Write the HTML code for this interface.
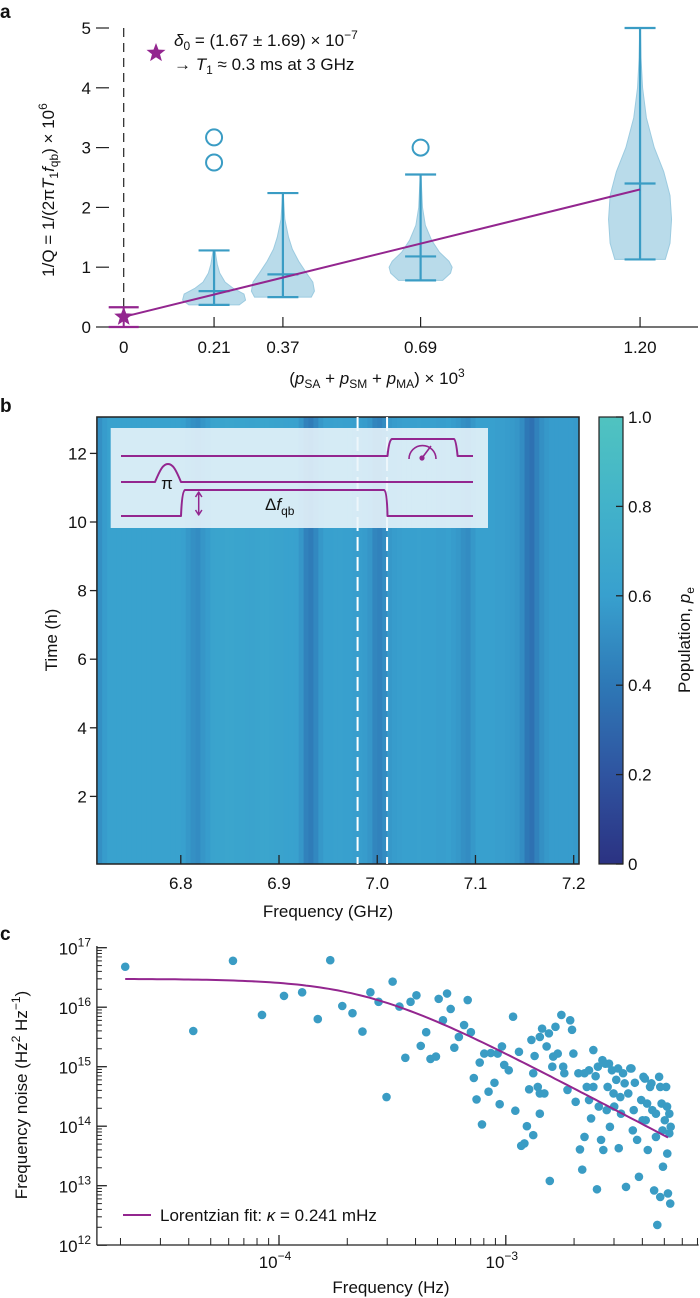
<!DOCTYPE html>
<html><head><meta charset="utf-8">
<style>
html,body{margin:0;padding:0;background:#fff;}
svg{display:block;font-family:"Liberation Sans",sans-serif;}
text{fill:#111;}
</style></head>
<body>
<svg id="fig" width="700" height="1298" viewBox="0 0 700 1298" xmlns="http://www.w3.org/2000/svg">
<g id="pa"></g>
<g id="pb"></g>
<g id="pc"></g>
</svg>
<script>
// ---------- Panel a data ----------
const aCategories = [0.21, 0.37, 0.69, 1.20];
const aMins = [0.37, 0.50, 0.78, 1.13];
const aMedians = [0.60, 0.88, 1.18, 2.40];
const aMaxs = [1.28, 2.24, 2.55, 5.00];
const aOutliers = [[3.17, 2.75], [], [3.00], []];
const aDensY = [
  [0.37,0.45,0.55,0.65,0.75,0.9,1.05,1.28],
  [0.5,0.6,0.75,0.9,1.1,1.3,1.5,1.8,2.24],
  [0.78,0.9,1.0,1.1,1.25,1.45,1.7,2.0,2.55],
  [1.13,1.4,1.8,2.2,2.6,3.0,3.5,4.0,4.5,5.0]
];
const aDensW = [
  [0.8,1.0,0.95,0.6,0.35,0.18,0.1,0.03],
  [0.9,1.0,0.95,0.75,0.5,0.3,0.18,0.06,0.01],
  [0.7,0.95,1.0,0.9,0.6,0.35,0.15,0.06,0.01],
  [0.8,0.95,1.0,0.95,0.75,0.45,0.2,0.08,0.03,0.01]
];
const aStar = [0, 0.17, 0.0, 0.33];
const aFit = [0.17, 2.30];
const aXTicks = [0, 0.21, 0.37, 0.69, 1.20];
const aXTickLabels = ["0","0.21","0.37","0.69","1.20"];
const aYTicks = [0,1,2,3,4,5];

// ---------- Panel b data ----------
const bProfile = [0.52,0.58,
 0.62,0.62,0.62,0.62,0.62,0.62,0.62,0.62,0.62,0.62,0.62,0.62,0.62,0.62,0.62,
 0.6,0.56,0.52,0.5,0.55,0.58,
 0.63,0.64,0.64,0.65,0.65,0.64,0.64,0.63,0.63,0.64,0.65,0.65,0.64,0.63,0.63,0.62,0.62,0.61,
 0.55,0.45,0.42,0.48,0.56,
 0.6,0.6,0.61,0.61,0.6,0.6,0.59,0.59,0.58,
 0.55,0.47,0.45,0.5,0.56,
 0.58,0.59,0.6,0.6,0.6,0.61,0.6,0.6,0.6,0.59,0.59,0.6,0.58,0.56,
 0.52,0.5,0.56,
 0.6,0.6,0.6,0.6,0.59,0.59,0.58,0.57,0.55,
 0.5,0.4,0.36,0.45,0.52,
 0.56,0.58,0.58,0.58,0.58,0.58,0.57,0.55];
const bFreqStart = 6.715, bFreqStep = 0.005;
const bXTicks = [6.8,6.9,7.0,7.1,7.2];
const bXTickLabels = ["6.8","6.9","7.0","7.1","7.2"];
const bYTicks = [2,4,6,8,10,12];
const bCbTicks = [0,0.2,0.4,0.6,0.8,1.0];
const bCbLabels = ["0","0.2","0.4","0.6","0.8","1.0"];
const bDashed = [6.980, 7.010];

// ---------- Panel c data (log10 f, log10 S) ----------
const cLogF = [-4.678,-4.378,-4.203,-4.075,-3.978,-3.898,-3.829,-3.774,-3.721,-3.676,-3.632,-3.597,-3.561,-3.526,-3.499,-3.469,-3.443,-3.420,-3.394,-3.375,-3.351,-3.332,-3.308,-3.296,-3.277,-3.259,-3.243,-3.227,-3.207,-3.184,-3.168,-3.154,-3.141,-3.129,-3.115,-3.105,-3.095,-3.076,-3.066,-3.050,-3.036,-3.027,-3.017,-3.007,-2.987,-2.968,-2.958,-2.942,-2.932,-2.918,-2.907,-2.897,-2.887,-2.879,-2.873,-2.859,-2.850,-2.840,-2.830,-2.820,-2.806,-2.795,-2.781,-2.771,-2.755,-2.742,-2.728,-2.716,-2.708,-2.702,-2.692,-2.680,-2.673,-2.663,-2.653,-2.643,-2.633,-2.624,-2.614,-2.604,-2.598,-2.590,-2.580,-2.570,-2.561,-2.551,-2.541,-2.532,-2.522,-2.513,-2.502,-2.492,-2.483,-2.470,-2.460,-2.451,-2.440,-2.431,-2.421,-2.413,-2.403,-2.393,-2.383,-2.374,-2.364,-2.354,-2.346,-2.338,-2.332,-2.324,-2.319,-2.313,-2.307,-2.299,-2.293,-2.288,-2.285,-2.279,-2.275,-2.273,
 -2.653,-2.594,-2.574,-2.545,-2.505,-2.476,-2.446,-2.387,-2.358,-2.319,-2.289,-2.633,-2.555,-2.495,-2.436,-2.377,-2.338,-2.279,-2.614,-2.525,-2.397,-2.309,-2.747,-2.791,-2.879,-2.850,-2.810,-2.850];
const cLogS = [16.68,15.60,16.78,15.87,16.19,16.25,15.80,16.79,16.02,15.90,15.59,16.25,16.09,14.49,16.43,16.01,15.15,16.09,16.20,15.35,15.58,15.13,15.17,16.14,15.78,16.23,15.97,15.32,15.50,15.70,16.12,15.58,14.81,14.45,15.07,14.03,15.22,14.58,15.23,14.73,15.22,14.37,15.34,15.03,14.94,15.84,14.26,15.25,13.67,13.71,14.00,14.62,15.45,13.85,15.18,14.66,14.21,15.64,14.55,15.34,13.08,15.00,15.67,15.22,15.87,14.89,14.61,15.78,15.62,15.22,14.41,14.89,13.61,13.27,13.82,14.66,14.94,14.13,15.28,14.84,12.94,14.33,13.77,13.60,15.05,14.66,13.99,14.94,14.33,14.78,13.63,14.21,14.89,12.98,14.55,14.97,13.93,14.73,13.77,13.15,14.44,14.83,14.10,13.60,14.66,14.27,12.92,13.82,12.34,14.83,12.81,14.38,13.32,14.10,14.66,13.54,12.87,14.21,12.70,13.99,
 14.89,15.00,15.11,15.05,14.97,14.72,14.97,14.80,14.72,14.66,14.33,14.44,14.27,14.49,14.27,14.38,14.21,13.88,14.66,14.55,14.10,13.93,15.00,15.17,14.89,14.55,15.56,15.50];
const cFitA = 3e16, cFitKappa = 2.41e-4;
const cFitRange = [-4.678, -2.285];
const cYTicks = [12,13,14,15,16,17];
const cXMajor = [-4,-3];

const NS = "http://www.w3.org/2000/svg";
function mk(parent, tag, attrs, text){
  const e = document.createElementNS(NS, tag);
  for (const k in attrs) e.setAttribute(k, attrs[k]);
  if (text !== undefined) e.textContent = text;
  parent.appendChild(e);
  return e;
}
const PURPLE = "#93268f", BLUE = "#3a9cc4";

// ================= PANEL A =================
(function(){
  const g = document.getElementById('pa');
  const xA = v => 123.7 + v*430.3;
  const yA = v => 327 - v*59.8;
  let t = mk(g,'text',{x:0,y:18,'font-size':19,'font-weight':'bold'},'a');
   
  let ax = mk(g,'line',{x1:109,y1:327,x2:698,y2:327,stroke:'#222','stroke-width':1.2});
   
  aYTicks.forEach(v=>{
    const tk = mk(g,'line',{x1:96,x2:109,y1:yA(v),y2:yA(v),stroke:'#222','stroke-width':1.2});
     
    const lb = mk(g,'text',{x:91,y:yA(v)+6,'font-size':17,'text-anchor':'end'},String(v));
     
  });
  aXTicks.forEach((v,i)=>{
    const tk = mk(g,'line',{x1:xA(v),x2:xA(v),y1:317,y2:327,stroke:'#222','stroke-width':1.2});
     
    const lb = mk(g,'text',{x:xA(v),y:353,'font-size':17,'text-anchor':'middle'},aXTickLabels[i]);
     
  });
  const dl = mk(g,'line',{x1:xA(0),x2:xA(0),y1:28,y2:327,stroke:'#222','stroke-width':1.2,'stroke-dasharray':'9,6'});
   
  aCategories.forEach((c,i)=>{
    const cx = xA(c), W = 31.5;
    const ys = aDensY[i], ws = aDensW[i];
    let d = 'M'+(cx-ws[0]*W)+','+yA(ys[0]);
    for (let k=1;k<ys.length;k++) d+=' L'+(cx-ws[k]*W)+','+yA(ys[k]);
    for (let k=ys.length-1;k>=0;k--) d+=' L'+(cx+ws[k]*W)+','+yA(ys[k]);
    d+='Z';
    const v = mk(g,'path',{d:d,fill:'#b9dbea',stroke:'#9ccbe0','stroke-width':1,'stroke-linejoin':'round'});
     
    const st = {stroke:BLUE,'stroke-width':2.2};
    const vl = mk(g,'line',Object.assign({x1:cx,x2:cx,y1:yA(aMins[i]),y2:yA(aMaxs[i])},st));
     
    [aMins[i],aMedians[i],aMaxs[i]].forEach(val=>{
      const cap = mk(g,'line',Object.assign({x1:cx-15.5,x2:cx+15.5,y1:yA(val),y2:yA(val)},st));
       
    });
    aOutliers[i].forEach(o=>{
      const oc = mk(g,'circle',{cx:cx,cy:yA(o),r:8,fill:'none',stroke:BLUE,'stroke-width':2});
       
    });
  });
  const fl = mk(g,'line',{x1:xA(0),y1:yA(aFit[0]),x2:xA(1.20),y2:yA(aFit[1]),stroke:PURPLE,'stroke-width':2});
   
  const sx = xA(aStar[0]);
  [[aStar[2]],[aStar[3]]].forEach(v=>{
    const c = mk(g,'line',{x1:sx-15,x2:sx+15,y1:yA(v[0]),y2:yA(v[0]),stroke:PURPLE,'stroke-width':2.2});
     
  });
  const ev = mk(g,'line',{x1:sx,x2:sx,y1:yA(aStar[2]),y2:yA(aStar[3]),stroke:PURPLE,'stroke-width':2});
   
  function star(cx,cy,r){
    let p=[];for(let k=0;k<10;k++){const rr=k%2?r*0.42:r;const a=-Math.PI/2+k*Math.PI/5;p.push((cx+rr*Math.cos(a)).toFixed(1)+','+(cy+rr*Math.sin(a)).toFixed(1));}
    return p.join(' ');
  }
  const s1 = mk(g,'polygon',{points:star(sx,yA(aStar[1]),10),fill:PURPLE});
   
  const s2 = mk(g,'polygon',{points:star(156,53,10),fill:PURPLE});
   
  const a1 = mk(g,'text',{x:174,y:46,'font-size':17});
   
  a1.innerHTML = '<tspan font-style="italic">δ</tspan><tspan font-size="12" dy="4">0</tspan><tspan dy="-4"> = (1.67 ± 1.69) × 10</tspan><tspan font-size="12" dy="-7">−7</tspan>';
  const a2 = mk(g,'text',{x:174,y:70,'font-size':17});
   
  a2.innerHTML = '→ <tspan font-style="italic">T</tspan><tspan font-size="12" dy="4">1</tspan><tspan dy="-4"> ≈ 0.3 ms at 3 GHz</tspan>';
  const yl = mk(g,'text',{x:0,y:0,'font-size':17,'text-anchor':'middle',transform:'translate(54,190) rotate(-90)'});
   
  yl.innerHTML = '1/Q = 1/(2π<tspan font-style="italic">T</tspan><tspan font-size="12" dy="4">1</tspan><tspan dy="-4" font-style="italic">f</tspan><tspan font-size="12" dy="4">qb</tspan><tspan dy="-4">) × 10</tspan><tspan font-size="12" dy="-7">6</tspan>';
  const xl = mk(g,'text',{x:377,y:384,'font-size':17,'text-anchor':'middle'});
   
  xl.innerHTML = '(<tspan font-style="italic">p</tspan><tspan font-size="12" dy="4">SA</tspan><tspan dy="-4"> + </tspan><tspan font-style="italic">p</tspan><tspan font-size="12" dy="4">SM</tspan><tspan dy="-4"> + </tspan><tspan font-style="italic">p</tspan><tspan font-size="12" dy="4">MA</tspan><tspan dy="-4">) × 10</tspan><tspan font-size="12" dy="-7">3</tspan>';
})();

// ================= PANEL B =================
function cmap(v){
  const stops=[[0,[43,50,130]],[0.2,[47,84,160]],[0.4,[46,120,182]],[0.6,[56,160,206]],[0.8,[66,178,202]],[1,[80,195,192]]];
  v=Math.max(0,Math.min(1,v));
  for(let i=1;i<stops.length;i++){ if(v<=stops[i][0]){const a=stops[i-1],b=stops[i];const t=(v-a[0])/(b[0]-a[0]);
    return 'rgb('+a[1].map((c,k)=>Math.round(c+(b[1][k]-c)*t)).join(',')+')';}}
  return 'rgb(80,195,192)';
}
(function(){
  const g = document.getElementById('pb');
  const L=96.9,R=579,T=417,B=864;
  const xB = f => L + (f-6.7146)*(R-L)/(7.2054-6.7146);
  const yB = h => 865 - h*34.3;
  let t = mk(g,'text',{x:0,y:412,'font-size':19,'font-weight':'bold'},'b');
   
  const hm = mk(g,'g',{});
   
  bProfile.forEach((v,i)=>{
    const f0 = bFreqStart + i*bFreqStep;
    const x0 = Math.max(L,xB(f0)), x1 = Math.min(R,xB(f0+bFreqStep));
    const c = mk(hm,'rect',{x:x0,y:T,width:Math.max(0,x1-x0)+0.6,height:B-T,fill:cmap(v)});
     
  });
  const fr = mk(g,'rect',{x:L,y:T,width:R-L,height:B-T,fill:'none',stroke:'#222','stroke-width':1.5});
   
  bDashed.forEach(f=>{
    const d = mk(g,'line',{x1:xB(f),x2:xB(f),y1:T,y2:B,stroke:'#fff','stroke-width':2,'stroke-dasharray':'14,6'});
     
  });
  bYTicks.forEach(h=>{
    const tk = mk(g,'line',{x1:L-7,x2:L,y1:yB(h),y2:yB(h),stroke:'#222','stroke-width':1.3});
     
    const lb = mk(g,'text',{x:L-10,y:yB(h)+6,'font-size':17,'text-anchor':'end'},String(h));
     
  });
  bXTicks.forEach((f,i)=>{
    const tk = mk(g,'line',{x1:xB(f),x2:xB(f),y1:B-9,y2:B,stroke:'#222','stroke-width':1.3});
     
    const lb = mk(g,'text',{x:xB(f),y:889,'font-size':17,'text-anchor':'middle'},bXTickLabels[i]);
     
  });
  const xl = mk(g,'text',{x:328,y:917,'font-size':17,'text-anchor':'middle'},'Frequency (GHz)');
   
  const yl = mk(g,'text',{x:0,y:0,'font-size':17,'text-anchor':'middle',transform:'translate(57,640) rotate(-90)'},'Time (h)');
   
  const ins = mk(g,'g',{});
   
  mk(ins,'rect',{x:110.7,y:428,width:377.3,height:100,fill:'rgba(235,245,250,0.88)'});
  const ps = {fill:'none',stroke:PURPLE,'stroke-width':2,'stroke-linejoin':'round'};
  const p1 = mk(ins,'path',Object.assign({d:'M121,456 L387.5,456 Q389,440 392,439 L454,439 Q456,440 457.6,456 L473,456'},ps));
   
  const p2 = mk(ins,'path',Object.assign({d:'M121,482 L155,482 C160,470 163,464 168,464 C173,464 176,470 181,482 L473,482'},ps));
   
  const p3 = mk(ins,'path',Object.assign({d:'M121,516 L181,516 Q182,491 185,490 L384,490 Q387,491 387.5,516 L473,516'},ps));
   
  const ar = mk(ins,'path',Object.assign({d:'M198.7,493 L198.7,514 M195.5,497 L198.7,492 L201.9,497 M195.5,510 L198.7,515 L201.9,510'},ps,{'stroke-width':1.5}));
   
  const pi = mk(ins,'text',{x:167,y:489,'font-size':17,'text-anchor':'middle'},'π');
   
  const df = mk(ins,'text',{x:265,y:510,'font-size':17});
   
  df.innerHTML = 'Δ<tspan font-style="italic">f</tspan><tspan font-size="12" dy="5">qb</tspan>';
  const mt = mk(ins,'path',Object.assign({d:'M409,459 A13,13 0 0 1 436,459 M422,458 L431,446'},ps,{'stroke-width':1.6}));
   
  mk(ins,'circle',{cx:422,cy:458,r:2.6,fill:PURPLE});
  const defs = mk(g,'defs',{});
  const lg = mk(defs,'linearGradient',{id:'cbg',x1:0,y1:1,x2:0,y2:0});
  for(let k=0;k<=10;k++) mk(lg,'stop',{offset:k/10,'stop-color':cmap(k/10)});
  const cb = mk(g,'rect',{x:599,y:417,width:24,height:447,fill:'url(#cbg)',stroke:'#222','stroke-width':1.2});
   
  bCbTicks.forEach((v,i)=>{
    const yy = 864 - v*447;
    const tk = mk(g,'line',{x1:616,x2:623,y1:yy,y2:yy,stroke:'#222','stroke-width':1.3});
     
    const lb = mk(g,'text',{x:628,y:yy+6,'font-size':17},bCbLabels[i]);
     
  });
  const cl = mk(g,'text',{x:0,y:0,'font-size':17,'text-anchor':'middle',transform:'translate(690,640) rotate(-90)'});
   
  cl.innerHTML = 'Population, <tspan font-style="italic">p</tspan><tspan font-size="12" dy="4">e</tspan>';
})();

// ================= PANEL C =================
(function(){
  const g = document.getElementById('pc');
  const L=96.9, Bt=1245;
  const xC = lf => 279 + (lf+4)*226.8;
  const yC = ls => 947.7 + (17-ls)*59.5;
  let t = mk(g,'text',{x:0,y:940,'font-size':19,'font-weight':'bold'},'c');
   
  const ya = mk(g,'line',{x1:L,x2:L,y1:946,y2:Bt,stroke:'#222','stroke-width':1.3});
   
  const xa = mk(g,'line',{x1:L,x2:698.6,y1:Bt,y2:Bt,stroke:'#222','stroke-width':1.3});
   
  cYTicks.forEach(e=>{
    const tk = mk(g,'line',{x1:L,x2:L+10,y1:yC(e),y2:yC(e),stroke:'#222','stroke-width':1.3});
     
    if(e<17) for(let m=2;m<=9;m++){
      const yy=yC(e+Math.log10(m));
      const mt = mk(g,'line',{x1:L,x2:L+5,y1:yy,y2:yy,stroke:'#222','stroke-width':1});
       
    }
    const lb = mk(g,'text',{x:91,y:yC(e)+7,'font-size':17,'text-anchor':'end'});
     
    lb.innerHTML = '10<tspan font-size="12" dy="-8">'+e+'</tspan>';
  });
  for(let dec=-5;dec<=-3;dec++){
    for(let m=1;m<=9;m++){
      const lf = dec+Math.log10(m), xx = xC(lf);
      if(xx<L+2||xx>698) continue;
      const major = (m===1);
      const tk = mk(g,'line',{x1:xx,x2:xx,y1:Bt-(major?10:7),y2:Bt,stroke:'#222','stroke-width':major?1.3:1});
       
    }
  }
  cXMajor.forEach(e=>{
    const lb = mk(g,'text',{x:xC(e)-4,y:1268,'font-size':17,'text-anchor':'middle'});
     
    lb.innerHTML = '10<tspan font-size="12" dy="-8">−'+(-e)+'</tspan>';
  });
  cLogF.forEach((lf,i)=>{
    const c = mk(g,'circle',{cx:xC(lf),cy:yC(cLogS[i]),r:4.3,fill:BLUE});
     
  });
  let d='';
  for(let k=0;k<=120;k++){
    const lf = cFitRange[0]+(cFitRange[1]-cFitRange[0])*k/120;
    const f = Math.pow(10,lf);
    const S = cFitA/(1+Math.pow(f/cFitKappa,2));
    d += (k?' L':'M')+xC(lf).toFixed(1)+','+yC(Math.log10(S)).toFixed(1);
  }
  const fit = mk(g,'path',{d:d,fill:'none',stroke:PURPLE,'stroke-width':2});
   
  const ll = mk(g,'line',{x1:123,x2:151,y1:1215,y2:1215,stroke:PURPLE,'stroke-width':2});
   
  const lt = mk(g,'text',{x:160,y:1221,'font-size':17});
   
  lt.innerHTML = 'Lorentzian fit: <tspan font-style="italic">κ</tspan> = 0.241 mHz';
  const xl = mk(g,'text',{x:391,y:1293,'font-size':17,'text-anchor':'middle'},'Frequency (Hz)');
   
  const yl = mk(g,'text',{x:0,y:0,'font-size':17,'text-anchor':'middle',transform:'translate(27,1095) rotate(-90)'});
   
  yl.innerHTML = 'Frequency noise (Hz<tspan font-size="12" dy="-7">2</tspan><tspan dy="7"> Hz</tspan><tspan font-size="12" dy="-7">−1</tspan><tspan dy="7">)</tspan>';
})();
</script>
</body></html>
